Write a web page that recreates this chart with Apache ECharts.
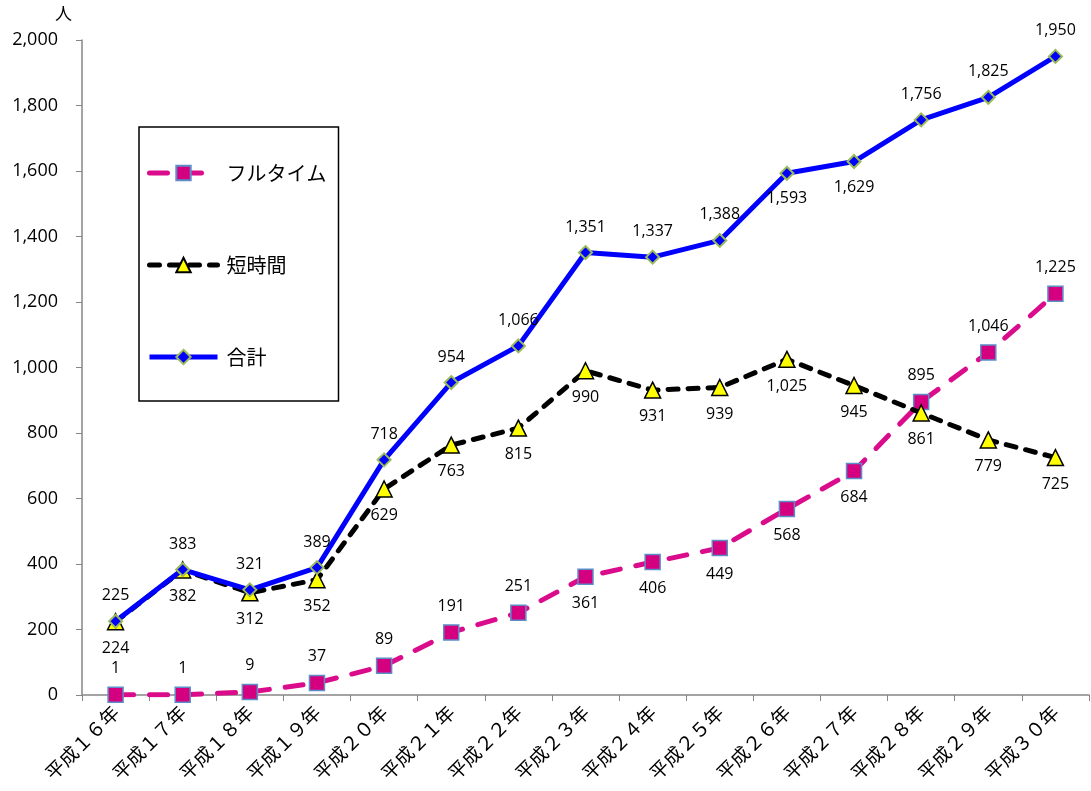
<!DOCTYPE html>
<html><head><meta charset="utf-8">
<script src="https://cdn.jsdelivr.net/npm/echarts@6/dist/echarts.min.js"></script>
<style>html,body{margin:0;padding:0;background:#fff}#c{width:1091px;height:791px}</style>
</head><body><div id="c"></div>
<script>
const categories = ['平成１６年','平成１７年','平成１８年','平成１９年','平成２０年','平成２１年','平成２２年','平成２３年','平成２４年','平成２５年','平成２６年','平成２７年','平成２８年','平成２９年','平成３０年'];
const fullTime = [1,1,9,37,89,191,251,361,406,449,568,684,895,1046,1225];
const shortTime = [224,382,312,352,629,763,815,990,931,939,1025,945,861,779,725];
const total = [225,383,321,389,718,954,1066,1351,1337,1388,1593,1629,1756,1825,1950];
const seriesNames = ['フルタイム','短時間','合計'];

const fullPos = ['top','top','top','top','top','top','top','bottom','bottom','bottom','bottom','bottom','top','top','top'];
const totalPos = ['top','top','top','top','top','top','top','top','top','top','bottom','bottom','top','top','top'];
const FONT = '"Noto Sans CJK JP", "Noto Sans", sans-serif';
const NUMFONT = '"Open Sans", "Noto Sans CJK JP", sans-serif';
const fmt = v => v.toLocaleString('en-US');
function items(vals, pos){ return vals.map((v,i)=>({value:v, label:{position:pos?pos[i]:'bottom'}})); }

const chart = echarts.init(document.getElementById('c'));
chart.setOption({
  animation:false,
  textStyle:{fontFamily:FONT},
  grid:{left:82,right:2,top:40,bottom:96},
  legend:{
    orient:'vertical', left:139, top:127,
    data:seriesNames,
    borderColor:'#000', borderWidth:1.5,
    padding:[36,12,34,8],
    itemGap:72, itemWidth:68, itemHeight:18,
    lineStyle:{width:5},
    textStyle:{fontSize:20,color:'#000',fontFamily:FONT,padding:[0,0,0,4]}
  },
  graphic:[{type:'text',left:55,top:5,style:{text:'人',fontSize:17,fill:'#000',fontFamily:FONT}}],
  xAxis:{
    type:'category', data:categories, boundaryGap:true,
    axisLine:{lineStyle:{color:'#868686',width:1.5}},
    axisTick:{show:true,length:6,lineStyle:{color:'#868686'}},
    axisLabel:{rotate:45,fontSize:19,color:'#000',margin:14,fontFamily:FONT}
  },
  yAxis:{
    type:'value', min:0, max:2000, interval:200,
    axisLine:{show:true,lineStyle:{color:'#868686',width:1.5}},
    axisTick:{show:true,length:6,lineStyle:{color:'#868686'}},
    splitLine:{show:false},
    axisLabel:{fontSize:18,color:'#000',margin:24,formatter:v=>fmt(v),fontFamily:NUMFONT}
  },
  series:[
    {name:seriesNames[0],type:'line',data:items(fullTime,fullPos),
     symbol:'rect',symbolSize:15,
     lineStyle:{color:'#DB0C8B',width:5,type:[18,16],cap:'round'},
     itemStyle:{color:'#D4007F',borderColor:'#5B8EC8',borderWidth:1.5},
     label:{show:true,fontSize:16,color:'#000',distance:10,formatter:p=>fmt(p.value),fontFamily:NUMFONT},
     z:2},
    {name:seriesNames[1],type:'line',data:items(shortTime),
     symbol:'triangle',symbolSize:16,
     lineStyle:{color:'#000',width:5,type:[10,10],cap:'round'},
     itemStyle:{color:'#FFFF00',borderColor:'#000',borderWidth:1.5},
     label:{show:true,fontSize:16,color:'#000',distance:10,formatter:p=>fmt(p.value),fontFamily:NUMFONT},
     z:3},
    {name:seriesNames[2],type:'line',data:items(total,totalPos),
     symbol:'diamond',symbolSize:13,
     lineStyle:{color:'#0000FF',width:5},
     itemStyle:{color:'#0000FF',borderColor:'#9BBB59',borderWidth:2},
     label:{show:true,fontSize:16,color:'#000',distance:10,formatter:p=>fmt(p.value),fontFamily:NUMFONT},
     z:4}
  ]
});
</script></body></html>
